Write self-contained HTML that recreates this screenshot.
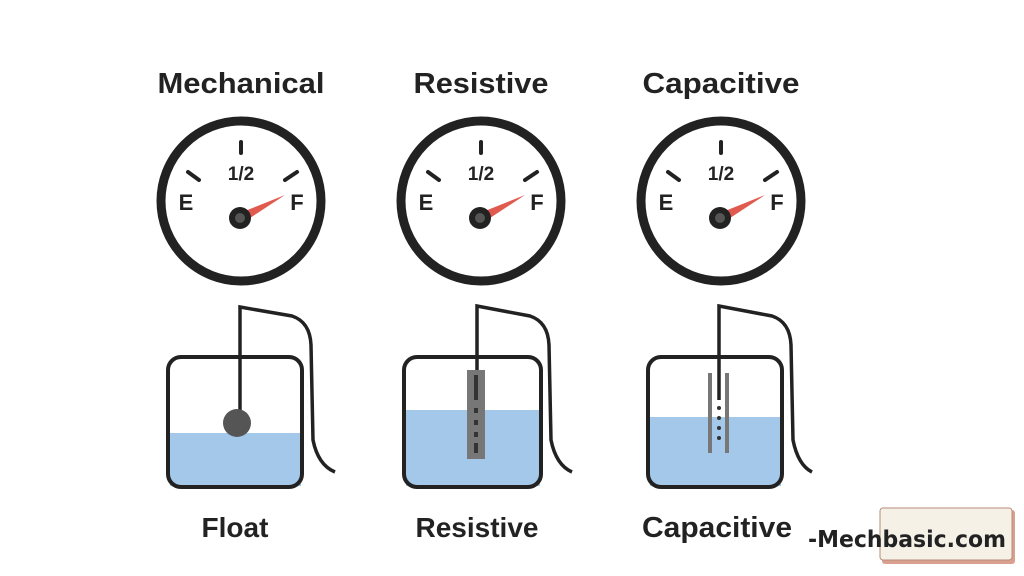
<!DOCTYPE html>
<html><head><style>
html,body{margin:0;padding:0;background:#fff;}
svg{display:block;}
text{font-family:"Liberation Sans",sans-serif;font-weight:bold;fill:#222;}
</style></head><body>
<svg width="1024" height="576" viewBox="0 0 1024 576">
<defs>
<g id="gauge">
<circle cx="0" cy="0" r="80" fill="#fff" stroke="#222" stroke-width="9"/>
<line x1="0" y1="-59" x2="0" y2="-48" stroke="#222" stroke-width="4" stroke-linecap="round"/>
<line x1="-53" y1="-29" x2="-42" y2="-21" stroke="#222" stroke-width="4" stroke-linecap="round"/>
<line x1="56" y1="-29" x2="44" y2="-21" stroke="#222" stroke-width="4" stroke-linecap="round"/>
<text x="0" y="-21" font-size="19" text-anchor="middle">1/2</text>
<text x="-55" y="9" font-size="22" text-anchor="middle">E</text>
<text x="56" y="9" font-size="22" text-anchor="middle">F</text>
<polygon points="-1,12 3,21 44,-6" fill="#e05a4f"/>
<circle cx="-1" cy="17" r="11" fill="#222"/>
<circle cx="-1" cy="17" r="5" fill="#555"/>
</g>
</defs>
<text x="241" y="93" font-size="29" text-anchor="middle" textLength="167" lengthAdjust="spacingAndGlyphs">Mechanical</text>
<text x="481" y="93" font-size="29" text-anchor="middle" textLength="135" lengthAdjust="spacingAndGlyphs">Resistive</text>
<text x="721" y="93" font-size="29" text-anchor="middle" textLength="157" lengthAdjust="spacingAndGlyphs">Capacitive</text>
<use href="#gauge" x="241" y="201"/>
<use href="#gauge" x="481" y="201"/>
<use href="#gauge" x="721" y="201"/>

<!-- Tank 1 -->
<rect x="170" y="433" width="131" height="53" fill="#a4c8ea"/>
<rect x="168" y="357" width="134" height="130" rx="13" fill="none" stroke="#222" stroke-width="4"/>
<path d="M240,423 L240,307 L292,316 Q310,322 311,345 L313,440 Q318,465 335,472" fill="none" stroke="#222" stroke-width="3.5"/>
<circle cx="237" cy="423" r="14" fill="#555"/>

<!-- Tank 2 -->
<rect x="406" y="410" width="134" height="76" fill="#a4c8ea"/>
<rect x="404" y="357" width="137" height="130" rx="13" fill="none" stroke="#222" stroke-width="4"/>
<path d="M477,372 L477,306 L530,316 Q548,322 549,345 L551,440 Q556,465 572,472" fill="none" stroke="#222" stroke-width="3.5"/>
<rect x="467" y="370" width="18" height="89" fill="#777"/>
<rect x="474" y="375" width="4" height="25" fill="#333"/>
<rect x="474" y="408" width="4" height="5" fill="#333"/>
<rect x="474" y="420" width="4" height="5" fill="#333"/>
<rect x="474" y="432" width="4" height="5" fill="#333"/>
<rect x="474" y="443" width="4" height="10" fill="#333"/>

<!-- Tank 3 -->
<rect x="650" y="417" width="131" height="69" fill="#a4c8ea"/>
<rect x="648" y="357" width="134" height="130" rx="13" fill="none" stroke="#222" stroke-width="4"/>
<path d="M719,400 L719,306 L772,316 Q790,322 791,345 L793,440 Q798,465 812,472" fill="none" stroke="#222" stroke-width="3.5"/>
<rect x="708" y="373" width="4" height="80" fill="#777"/>
<rect x="725" y="373" width="4" height="80" fill="#777"/>
<circle cx="719" cy="408" r="2" fill="#333"/>
<circle cx="719" cy="418" r="2" fill="#333"/>
<circle cx="719" cy="428" r="2" fill="#333"/>
<circle cx="719" cy="438" r="2" fill="#333"/>

<text x="235" y="537" font-size="28" text-anchor="middle">Float</text>
<text x="477" y="537" font-size="28" text-anchor="middle">Resistive</text>
<text x="717" y="537" font-size="29" text-anchor="middle" textLength="150" lengthAdjust="spacingAndGlyphs">Capacitive</text>

<rect x="882" y="510" width="133" height="54" rx="3" fill="#d9a090"/>
<rect x="880" y="508" width="132" height="52" rx="3" fill="#f6f1e6" stroke="#b78a7a" stroke-width="1"/>
<text x="808" y="547" font-size="23" textLength="198" lengthAdjust="spacingAndGlyphs" style="font-family:'DejaVu Sans',sans-serif" fill="#111">-Mechbasic.com</text>
</svg>
</body></html>
